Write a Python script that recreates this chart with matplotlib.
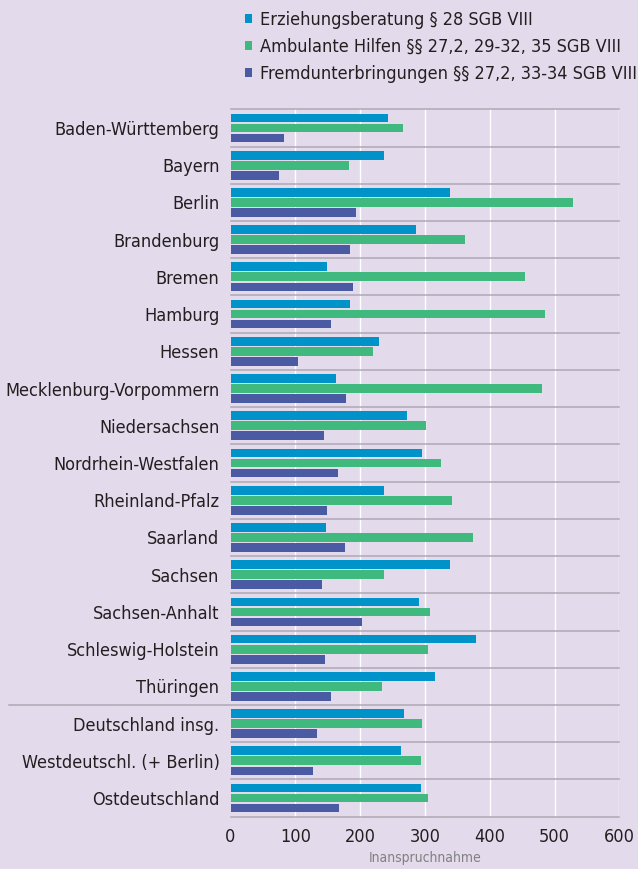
import matplotlib
matplotlib.use("Agg")
import matplotlib.pyplot as plt
import numpy as np

plt.rcParams['font.family'] = ['DejaVu Sans']
plt.rcParams['font.stretch'] = 'condensed'

laender = ["Baden-Württemberg", "Bayern", "Berlin", "Brandenburg", "Bremen",
           "Hamburg", "Hessen", "Mecklenburg-Vorpommern", "Niedersachsen",
           "Nordrhein-Westfalen", "Rheinland-Pfalz", "Saarland", "Sachsen",
           "Sachsen-Anhalt", "Schleswig-Holstein", "Thüringen",
           "Deutschland insg.", "Westdeutschl. (+ Berlin)", "Ostdeutschland"]

erziehungsberatung = [243, 237, 339, 286, 149, 184, 229, 163, 272, 296,
                      237, 147, 339, 291, 379, 316, 268, 263, 294]
ambulante_hilfen = [266, 183, 529, 362, 454, 485, 220, 481, 302, 325,
                    342, 374, 237, 308, 305, 234, 296, 294, 305]
fremdunterbringung = [83, 75, 194, 184, 189, 155, 104, 178, 144, 166,
                      149, 177, 141, 203, 146, 155, 134, 127, 168]

serien = ["Erziehungsberatung § 28 SGB VIII",
          "Ambulante Hilfen §§ 27,2, 29-32, 35 SGB VIII",
          "Fremdunterbringungen §§ 27,2, 33-34 SGB VIII"]
farben = ["#0093C9", "#40B97F", "#4A5AA3"]

bg = "#E3DBEC"
textfarbe = "#231F20"

fig = plt.figure(figsize=(6.38, 8.69), dpi=100, facecolor=bg)
ax = fig.add_axes([0.3613, 0.0602, 0.6097, 0.814])
ax.set_facecolor(bg)

y = np.arange(len(laender))
h = 0.234
off = 0.269
bars = []
for i, (werte, lab, col) in enumerate(zip([erziehungsberatung, ambulante_hilfen, fremdunterbringung], serien, farben)):
    b = ax.barh(y + (i - 1) * off, werte, height=h, color=col, label=lab, zorder=3)
    bars.append(b)

ax.set_xlim(0, 600)
ax.set_ylim(len(laender) - 0.5, -0.5)

# weisse Gitterlinien
for xv in range(100, 601, 100):
    ax.axvline(xv, color="white", lw=1.0, zorder=1)

# graue Trennlinien zwischen den Ländern
for k in range(len(laender) + 1):
    yy = k - 0.5
    x0 = 0
    if k == 16:
        x0 = -0.57
    ax.plot([x0, 1], [yy, yy], transform=ax.get_yaxis_transform(),
            color="#AEA9B3", lw=1.1, clip_on=False, zorder=2)

for s in ax.spines.values():
    s.set_visible(False)

ax.set_yticks(y)
ax.set_yticklabels(laender, fontsize=13, color=textfarbe)
ax.set_xticks(range(0, 601, 100))
ax.set_xticklabels([str(v) for v in range(0, 601, 100)], fontsize=13, color=textfarbe)
ax.tick_params(length=0, pad=8)
ax.tick_params(axis="y", pad=8)
ax.set_xlabel("Inanspruchnahme", fontsize=10, color="#808080", labelpad=4)

fig.legend(handles=bars, labels=serien, loc="upper left",
           bbox_to_anchor=(0.372, 0.996), frameon=False, fontsize=13,
           handlelength=0.42, handleheight=0.42, handletextpad=0.45,
           labelspacing=0.5, labelcolor=textfarbe, borderaxespad=0)

fig.savefig("out.png", dpi=100, facecolor=bg)
